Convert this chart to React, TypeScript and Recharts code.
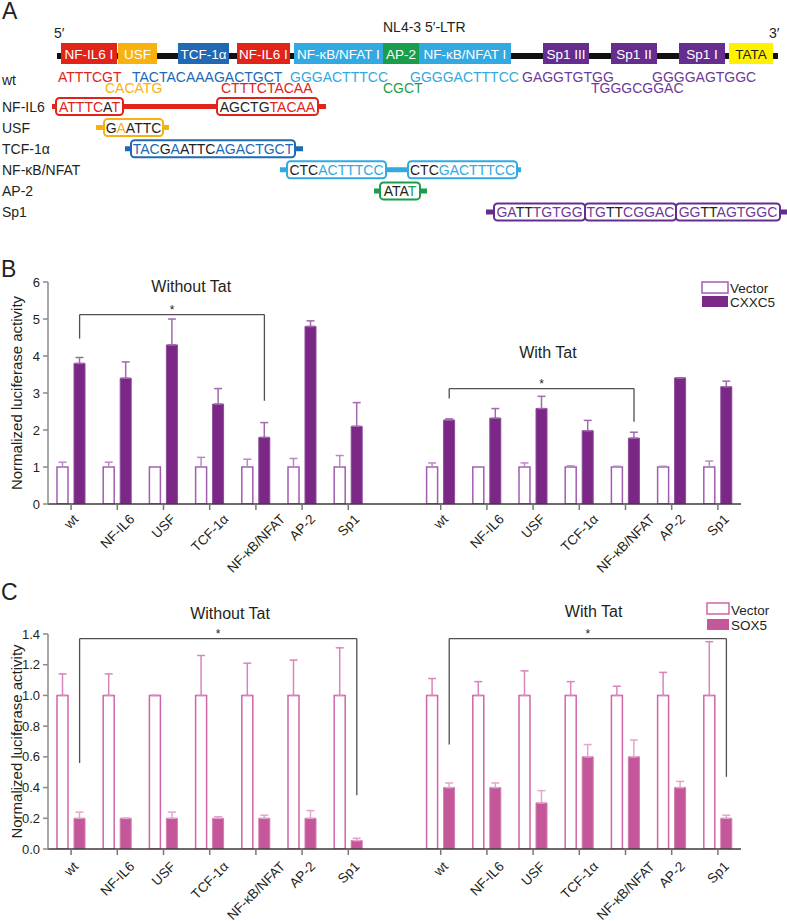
import React from "react"
import { BarChart, Bar, XAxis, YAxis, ErrorBar, ReferenceLine, ReferenceDot, Legend } from "recharts"

const FONT = '"Liberation Sans", Arial, Helvetica, sans-serif'
const INK = "#231f20"

// panel A palette
const RED = "#e2231a"
const ORANGE = "#f9b10f"
const BLUE = "#2169b3"
const LIGHT = "#32a9e0"
const GREEN = "#1b9e4b"
const PURPLE = "#662d91"
const PURPLE_TXT = "#6d3a97"
const YELLOW = "#fff100"

// ---- panel A: LTR schematic ----
const ltrElements = [
  { label: "NF-IL6 I", x0: 61, x1: 117, fill: RED },
  { label: "USF", x0: 118, x1: 157, fill: ORANGE },
  { label: "TCF-1α", x0: 178, x1: 229, fill: BLUE },
  { label: "NF-IL6 I", x0: 237, x1: 290, fill: RED },
  { label: "NF-κB/NFAT I", x0: 294, x1: 383, fill: LIGHT },
  { label: "AP-2", x0: 383, x1: 419, fill: GREEN },
  { label: "NF-κB/NFAT I", x0: 419, x1: 511, fill: LIGHT },
  { label: "Sp1 III", x0: 543, x1: 589, fill: PURPLE },
  { label: "Sp1 II", x0: 611, x1: 657, fill: PURPLE },
  { label: "Sp1 I", x0: 679, x1: 725, fill: PURPLE },
  { label: "TATA", x0: 729, x1: 773, fill: YELLOW, ink: INK },
]

const wtTop = [
  { seq: "ATTTCGT", x: 58, color: RED },
  { seq: "TACTACAAAGACTGCT", x: 132, color: BLUE },
  { seq: "GGGACTTTCC", x: 290, color: LIGHT },
  { seq: "GGGGACTTTCC", x: 410, color: LIGHT },
  { seq: "GAGGTGTGG", x: 522, color: PURPLE_TXT },
  { seq: "GGGGAGTGGC", x: 652, color: PURPLE_TXT },
]
const wtBottom = [
  { seq: "CACATG", x: 105, color: ORANGE },
  { seq: "CTTTCTACAA", x: 221, color: RED },
  { seq: "CGCT", x: 383, color: GREEN },
  { seq: "TGGGCGGAC", x: 591, color: PURPLE_TXT },
]

type Part = [string, number] // text, 1 = mutated base
const mutants: { label: string; color: string; text: string; line: number[]; boxes: { x0: number; x1: number; parts: Part[] }[] }[] = [
  { label: "NF-IL6", color: RED, text: RED, line: [52, 326], boxes: [
    { x0: 56, x1: 123, parts: [["ATTTC", 0], ["A", 1], ["T", 0]] },
    { x0: 217, x1: 318, parts: [["AGCTG", 1], ["TACAA", 0]] },
  ] },
  { label: "USF", color: ORANGE, text: ORANGE, line: [96, 169], boxes: [
    { x0: 104, x1: 163, parts: [["G", 1], ["A", 0], ["ATTC", 1]] },
  ] },
  { label: "TCF-1α", color: BLUE, text: BLUE, line: [125, 303], boxes: [
    { x0: 131, x1: 295, parts: [["TAC", 0], ["G", 1], ["A", 0], ["ATTC", 1], ["AGACTGCT", 0]] },
  ] },
  { label: "NF-κB/NFAT", color: LIGHT, text: LIGHT, line: [280, 521], boxes: [
    { x0: 287, x1: 386, parts: [["CTC", 1], ["ACTTTCC", 0]] },
    { x0: 408, x1: 517, parts: [["CTC", 1], ["GACTTTCC", 0]] },
  ] },
  { label: "AP-2", color: GREEN, text: GREEN, line: [374, 427], boxes: [
    { x0: 380, x1: 420, parts: [["ATA", 1], ["T", 0]] },
  ] },
  { label: "Sp1", color: PURPLE, text: PURPLE_TXT, line: [486, 787], boxes: [
    { x0: 494, x1: 585, parts: [["GA", 0], ["TT", 1], ["TGTGG", 0]] },
    { x0: 585, x1: 676, parts: [["TG", 0], ["TT", 1], ["CGGAC", 0]] },
    { x0: 676, x1: 780, parts: [["GG", 0], ["TT", 1], ["AGTGGC", 0]] },
  ] },
]

// ---- panels B and C: luciferase data ----
const constructs = ["wt", "NF-IL6", "USF", "TCF-1α", "NF-κB/NFAT", "AP-2", "Sp1"]
const withTatStart = 8 // one empty slot between the groups

const bVectorNoTat = [1, 1, 1, 1, 1, 1, 1]
const bVectorNoTatErr = [0.13, 0.13, 0, 0.26, 0.21, 0.23, 0.31]
const bCxxc5NoTat = [3.8, 3.4, 4.3, 2.7, 1.8, 4.8, 2.1]
const bCxxc5NoTatErr = [0.16, 0.44, 0.7, 0.42, 0.4, 0.15, 0.64]
const bVectorTat = [1, 1, 1, 1, 1, 1, 1]
const bVectorTatErr = [0.11, 0, 0.11, 0.03, 0.02, 0.02, 0.16]
const bCxxc5Tat = [2.27, 2.32, 2.58, 1.98, 1.78, 3.41, 3.17]
const bCxxc5TatErr = [0.03, 0.26, 0.33, 0.28, 0.16, 0, 0.15]

const cVectorNoTat = [1, 1, 1, 1, 1, 1, 1]
const cVectorNoTatErr = [0.14, 0.14, 0, 0.26, 0.21, 0.23, 0.31]
const cSox5NoTat = [0.2, 0.2, 0.2, 0.2, 0.2, 0.2, 0.055]
const cSox5NoTatErr = [0.04, 0, 0.04, 0.01, 0.02, 0.05, 0.015]
const cVectorTat = [1, 1, 1, 1, 1, 1, 1]
const cVectorTatErr = [0.11, 0.09, 0.16, 0.09, 0.06, 0.15, 0.35]
const cSox5Tat = [0.4, 0.4, 0.3, 0.6, 0.6, 0.4, 0.2]
const cSox5TatErr = [0.03, 0.03, 0.08, 0.08, 0.11, 0.04, 0.02]

const bTicks = [0, 1, 2, 3, 4, 5, 6]
const cTicks = [0, 0.2, 0.4, 0.6, 0.8, 1.0, 1.2, 1.4]

// significance brackets: construct index in each group, bracket top and leg ends
const bBrackets = [
  { from: 0, to: 4, top: 5.12, leftEnd: 4.47, rightEnd: 2.79 },
  { from: 8, to: 12, top: 3.12, leftEnd: 2.85, rightEnd: 2.22 },
]
const cBrackets = [
  { from: 0, to: 6, top: 1.37, leftEnd: 0.56, rightEnd: 0.35 },
  { from: 8, to: 14, top: 1.37, leftEnd: 0.68, rightEnd: 0.47 },
]
const bTitles = [
  { text: "Without Tat", x: 2.6, y: 5.74 },
  { text: "With Tat", x: 10.32, y: 3.95 },
]
const cTitles = [
  { text: "Without Tat", x: 3.44, y: 1.495 },
  { text: "With Tat", x: 11.31, y: 1.51 },
]

const tickPositions = [...constructs.map((_, i) => i), ...constructs.map((_, i) => i + withTatStart)]
const nameAt = (pos: number) => constructs[pos >= withTatStart ? pos - withTatStart : pos] ?? ""

type Row = { pos: number; name: string; vector: number; vectorErr: number[]; treated: number; treatedErr: number[] }

function buildRows(vNo: number[], vNoE: number[], tNo: number[], tNoE: number[], vT: number[], vTE: number[], tT: number[], tTE: number[]): Row[] {
  const rows: Row[] = []
  constructs.forEach((name, i) =>
    rows.push({ pos: i, name, vector: vNo[i], vectorErr: [0, vNoE[i]], treated: tNo[i], treatedErr: [0, tNoE[i]] })
  )
  constructs.forEach((name, i) =>
    rows.push({ pos: i + withTatStart, name, vector: vT[i], vectorErr: [0, vTE[i]], treated: tT[i], treatedErr: [0, tTE[i]] })
  )
  return rows
}

const bRows = buildRows(bVectorNoTat, bVectorNoTatErr, bCxxc5NoTat, bCxxc5NoTatErr, bVectorTat, bVectorTatErr, bCxxc5Tat, bCxxc5TatErr)
const cRows = buildRows(cVectorNoTat, cVectorNoTatErr, cSox5NoTat, cSox5NoTatErr, cVectorTat, cVectorTatErr, cSox5Tat, cSox5TatErr)

const BAR = 11
const GAP = 6
const SLOT = 693 / 15
const OFF = (BAR + GAP) / 2 / SLOT // treated bar centre, in slot units
const TICK_FONT = 13.5

let measureCtx: CanvasRenderingContext2D | null = null
function textWidth(s: string, size: number) {
  if (!measureCtx && typeof document !== "undefined") measureCtx = document.createElement("canvas").getContext("2d")
  if (!measureCtx) return s.length * size * 0.6
  measureCtx.font = `${size}px ${FONT}`
  return measureCtx.measureText(s).width
}

// rotated labels, bounding box centred under the tick
function RotatedTick(props: any) {
  const { x, y, payload, dy } = props
  const label = nameAt(payload.value)
  const w = textWidth(label, TICK_FONT)
  const ex = x + 3.4 + w * 0.354
  const ey = y + dy
  return (
    <text x={ex} y={ey} transform={`rotate(-45 ${ex} ${ey})`} textAnchor="end" fontSize={TICK_FONT} fill={INK}>
      {label}
    </text>
  )
}

type ChartProps = {
  rows: Row[]
  yMax: number
  yTicks: number[]
  decimals: number
  treatedName: string
  vectorColor: string
  treatedColor: string
  treatedStroke: string
  vectorErrColor: string
  treatedErrColor: string
  brackets: typeof bBrackets
  titles: typeof bTitles
  height: number
  top: number
  xAxisHeight: number
  tickDy: number
  legend: { left: number; top: number; boxW: number; gap: number; textX: number; base1: number; base2: number }
}

function ActivityChart(p: ChartProps) {
  const lg = p.legend
  return (
    <BarChart
      width={787}
      height={p.height}
      data={p.rows}
      margin={{ top: p.top, right: 46, bottom: 0, left: 8 }}
      barSize={BAR}
      barGap={GAP}
    >
      <XAxis
        type="number"
        dataKey="pos"
        domain={[-0.5, 14.5]}
        ticks={tickPositions}
        interval={0}
        allowDataOverflow
        height={p.xAxisHeight}
        tickSize={6}
        tickMargin={2}
        axisLine={{ stroke: "#3a3a3a", strokeWidth: 1.5 }}
        tickLine={{ stroke: "#777", strokeWidth: 1.5 }}
        tick={(t: any) => <RotatedTick x={t.x} y={t.y} payload={t.payload} dy={p.tickDy} />}
      />
      <YAxis
        type="number"
        domain={[0, p.yMax]}
        ticks={p.yTicks}
        interval={0}
        allowDataOverflow
        width={40}
        tickSize={5}
        tickMargin={3}
        axisLine={{ stroke: "#8a8a8a", strokeWidth: 1.5 }}
        tickLine={{ stroke: "#8a8a8a", strokeWidth: 1.5 }}
        tick={{ fontSize: 13, fill: INK }}
        tickFormatter={(v: number) => v.toFixed(p.decimals)}
        label={{
          value: "Normalized luciferase activity",
          angle: -90,
          position: "insideLeft",
          offset: 9,
          style: { textAnchor: "middle", fontSize: 15, fill: INK },
        }}
      />
      <Bar dataKey="vector" name="Vector" fill="#ffffff" stroke={p.vectorColor} strokeWidth={1.5} isAnimationActive={false}>
        <ErrorBar dataKey="vectorErr" direction="y" width={4} stroke={p.vectorErrColor} strokeWidth={1.5} isAnimationActive={false} />
      </Bar>
      <Bar dataKey="treated" name={p.treatedName} fill={p.treatedColor} stroke={p.treatedStroke} strokeWidth={1} isAnimationActive={false}>
        <ErrorBar dataKey="treatedErr" direction="y" width={4} stroke={p.treatedErrColor} strokeWidth={1.5} isAnimationActive={false} />
      </Bar>
      {p.brackets.flatMap((b, i) => [
        <ReferenceLine key={`l${i}`} segment={[{ x: b.from + OFF, y: b.leftEnd }, { x: b.from + OFF, y: b.top }]} stroke="#505050" strokeWidth={1.3} ifOverflow="visible" />,
        <ReferenceLine key={`t${i}`} segment={[{ x: b.from + OFF, y: b.top }, { x: b.to + OFF, y: b.top }]} stroke="#505050" strokeWidth={1.3} ifOverflow="visible" />,
        <ReferenceLine key={`r${i}`} segment={[{ x: b.to + OFF, y: b.top }, { x: b.to + OFF, y: b.rightEnd }]} stroke="#505050" strokeWidth={1.3} ifOverflow="visible" />,
        <ReferenceDot
          key={`s${i}`}
          x={(b.from + b.to) / 2 + OFF}
          y={b.top}
          r={1}
          ifOverflow="visible"
          shape={(d: any) => (
            <text x={d.cx} y={d.cy - 1} textAnchor="middle" fontSize={12} fill={INK}>*</text>
          )}
        />,
      ])}
      {p.titles.map((t, i) => (
        <ReferenceDot
          key={`h${i}`}
          x={t.x}
          y={t.y}
          r={1}
          ifOverflow="visible"
          shape={(d: any) => (
            <text x={d.cx} y={d.cy} textAnchor="middle" fontSize={16} fill={INK}>{t.text}</text>
          )}
        />
      ))}
      <Legend
        layout="vertical"
        align="center"
        verticalAlign="middle"
        wrapperStyle={{ left: lg.left, top: lg.top, width: 86, height: 32 }}
        content={() => (
          <svg width={86} height={32} style={{ overflow: "visible", fontFamily: FONT }}>
            <rect x={1} y={1} width={lg.boxW} height={11} fill="#fff" stroke={p.vectorColor} strokeWidth={1.5} />
            <text x={lg.textX} y={lg.base1} fontSize={13.5} fill={INK}>Vector</text>
            <rect x={1} y={1 + lg.gap} width={lg.boxW} height={11} fill={p.treatedColor} />
            <text x={lg.textX} y={lg.base2} fontSize={13.5} fill={INK}>{p.treatedName}</text>
          </svg>
        )}
      />
    </BarChart>
  )
}

function PanelA() {
  return (
    <g>
      <text x={2} y={18.5} fontSize={23} fill={INK}>A</text>
      <text x={54} y={38} fontSize={14} fill={INK}>5′</text>
      <text x={383} y={31.5} fontSize={14} fill={INK}>NL4-3 5′-LTR</text>
      <text x={769} y={38} fontSize={14} fill={INK}>3′</text>
      <line x1={57} x2={778} y1={56} y2={56} stroke="#111" strokeWidth={6} />
      {ltrElements.map((e, i) => (
        <g key={i}>
          <rect x={e.x0} y={43} width={e.x1 - e.x0} height={21} fill={e.fill} />
          <text x={(e.x0 + e.x1) / 2} y={58.5} textAnchor="middle" fontSize={13.5} fill={e.ink ?? "#fff"}>
            {e.label}
          </text>
        </g>
      ))}
      <text x={2} y={85} fontSize={14} fill={INK}>wt</text>
      {wtTop.map((s, i) => (
        <text key={`a${i}`} x={s.x} y={81.5} fontSize={14} fill={s.color}>{s.seq}</text>
      ))}
      {wtBottom.map((s, i) => (
        <text key={`b${i}`} x={s.x} y={93} fontSize={14} fill={s.color}>{s.seq}</text>
      ))}
      {mutants.map((m, i) => {
        const cy = 106.5 + 21.1 * i
        return (
          <g key={`m${i}`}>
            <text x={2} y={cy + 5} fontSize={14} fill={INK}>{m.label}</text>
            <line x1={m.line[0]} x2={m.line[1]} y1={cy} y2={cy} stroke={m.color} strokeWidth={5} />
            {m.boxes.map((b, k) => (
              <g key={k}>
                <rect x={b.x0} y={cy - 8.5} width={b.x1 - b.x0} height={17} rx={3.5} fill="#fff" stroke={m.color} strokeWidth={2} />
                <text x={(b.x0 + b.x1) / 2} y={cy + 5} textAnchor="middle" fontSize={14}>
                  {b.parts.map(([s, mut], j) => (
                    <tspan key={j} fill={mut ? INK : m.text}>{s}</tspan>
                  ))}
                </text>
              </g>
            ))}
          </g>
        )
      })}
    </g>
  )
}

export default function App() {
  return (
    <div style={{ position: "absolute", left: 0, top: 0, width: 787, height: 921, background: "#fff", fontFamily: FONT, color: INK, overflow: "hidden" }}>
      <svg width={787} height={921} style={{ position: "absolute", left: 0, top: 0 }} fontFamily={FONT}>
        <PanelA />
        <text x={1} y={277} fontSize={23} fill={INK}>B</text>
        <text x={1} y={600} fontSize={23} fill={INK}>C</text>
      </svg>
      <div style={{ position: "absolute", left: 0, top: 240 }}>
        <ActivityChart
          rows={bRows}
          yMax={6}
          yTicks={bTicks}
          decimals={0}
          treatedName="CXXC5"
          vectorColor="#a25cb0"
          treatedColor="#7a2785"
          treatedStroke="#8f4a9b"
          vectorErrColor="#b98bc4"
          treatedErrColor="#a06aac"
          brackets={bBrackets}
          titles={bTitles}
          height={340}
          top={42}
          xAxisHeight={76}
          tickDy={8}
          legend={{ left: 701, top: 41, boxW: 26, gap: 14, textX: 29, base1: 11.5, base2: 25.5 }}
        />
      </div>
      <div style={{ position: "absolute", left: 0, top: 585 }}>
        <ActivityChart
          rows={cRows}
          yMax={1.4}
          yTicks={cTicks}
          decimals={1}
          treatedName="SOX5"
          vectorColor="#d065a6"
          treatedColor="#c4579a"
          treatedStroke="#d27bb0"
          vectorErrColor="#d984bb"
          treatedErrColor="#e3a6cd"
          brackets={cBrackets}
          titles={cTitles}
          height={336}
          top={49}
          xAxisHeight={72}
          tickDy={10.3}
          legend={{ left: 706, top: 17, boxW: 22, gap: 16, textX: 25, base1: 13, base2: 28 }}
        />
      </div>
    </div>
  )
}
